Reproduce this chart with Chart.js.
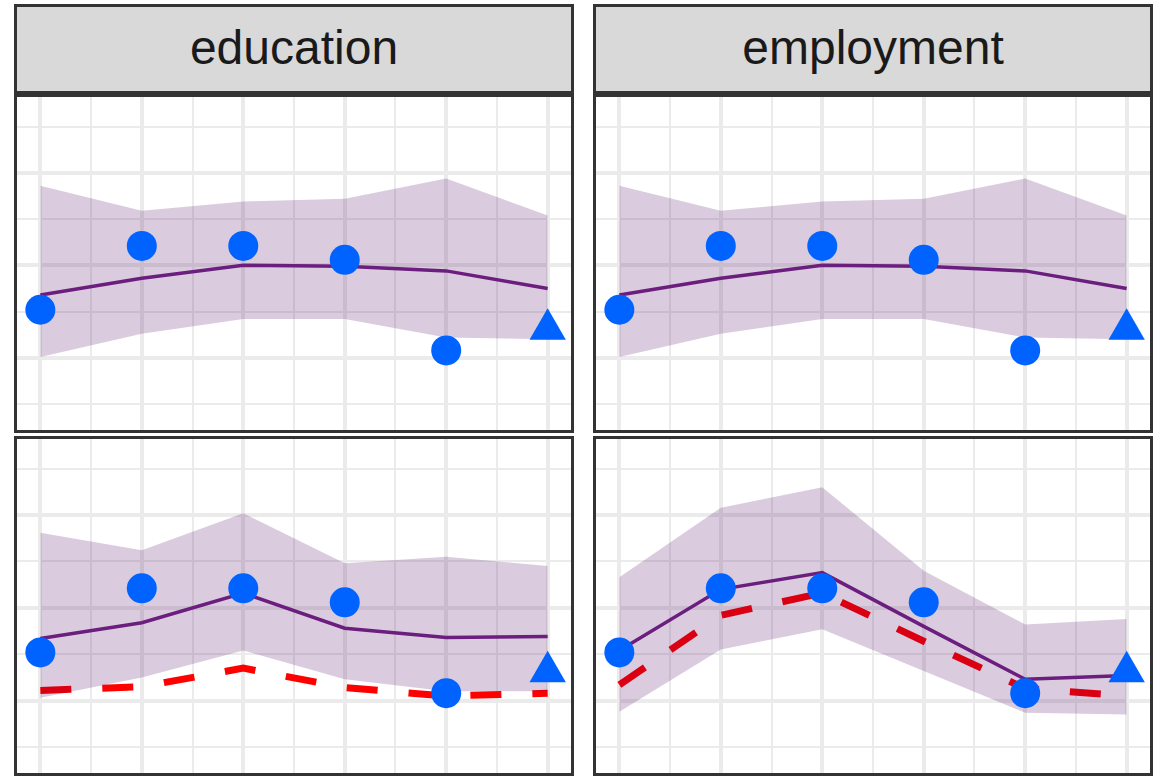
<!DOCTYPE html>
<html>
<head>
<meta charset="utf-8">
<script src="https://cdn.jsdelivr.net/npm/chart.js@4.4.1/dist/chart.umd.min.js"></script>
<style>
  body { margin: 0; width: 1166px; height: 778px; background: #fff; position: relative; overflow: hidden; font-family: "Liberation Sans", Arial, sans-serif; }
  .strip { position: absolute; box-sizing: border-box; height: 90px; border: 3px solid #333; background: #d9d9d9; }
  .strip span { position: absolute; left: 0; right: 0; top: 14px; text-align: center; font-size: 48px; line-height: 54px; color: #1a1a1a; }
  .panel { position: absolute; box-sizing: border-box; border: 3px solid #333; background: #fff; }
  .panel canvas { display: block; }
</style>
</head>
<body>
<div class="strip" style="left:14px;top:4px;width:560px"><span id="t0"></span></div>
<div class="strip" style="left:593px;top:4px;width:560px"><span id="t1"></span></div>
<div class="panel" style="left:14px;top:94px;width:560px;height:339px"><canvas id="c0" width="554" height="333"></canvas></div>
<div class="panel" style="left:593px;top:94px;width:560px;height:339px"><canvas id="c1" width="554" height="333"></canvas></div>
<div class="panel" style="left:14px;top:436px;width:560px;height:340px"><canvas id="c2" width="554" height="334"></canvas></div>
<div class="panel" style="left:593px;top:436px;width:560px;height:340px"><canvas id="c3" width="554" height="334"></canvas></div>

<script>
const facetTitles = ['education', 'employment'];
const xs = [1, 2, 3, 4, 5, 6];
const observed = [1.52, 2.21, 2.21, 2.06, 1.08, 1.31];

// top row (same fit in both facets)
const topFit = [1.68, 1.86, 2.00, 1.99, 1.94, 1.75];
const topUpper = [2.86, 2.59, 2.69, 2.72, 2.94, 2.54];
const topLower = [1.01, 1.26, 1.42, 1.42, 1.22, 1.20];

// bottom row, education
const eduFit = [1.67, 1.84, 2.16, 1.78, 1.68, 1.69];
const eduUpper = [2.81, 2.62, 3.02, 2.48, 2.55, 2.45];
const eduLower = [1.03, 1.25, 1.54, 1.23, 1.10, 1.10];
const eduRef = [1.11, 1.15, 1.35, 1.14, 1.05, 1.08];

// bottom row, employment
const empFit = [1.54, 2.20, 2.38, 1.80, 1.23, 1.27];
const empUpper = [2.33, 3.08, 3.30, 2.40, 1.82, 1.88];
const empLower = [0.88, 1.55, 1.77, 1.32, 0.87, 0.85];
const empRef = [1.17, 1.92, 2.16, 1.64, 1.13, 1.05];

const xGrid = [1, 1.5, 2, 2.5, 3, 3.5, 4, 4.5, 5, 5.5, 6];
const yGrid = [0.5, 1, 1.5, 2, 2.5, 3, 3.5];

document.getElementById('t0').textContent = facetTitles[0];
document.getElementById('t1').textContent = facetTitles[1];

const pts = arr => xs.map((x, i) => ({ x: x, y: arr[i] }));

function gridScale(min, max, values) {
    return {
        type: 'linear', min: min, max: max,
        afterBuildTicks: s => { s.ticks = values.map(v => ({ value: v })); },
        ticks: { display: false },
        border: { display: false },
        grid: {
            color: '#ebebeb',
            drawTicks: false,
            lineWidth: c => Number.isInteger(c.tick.value) ? 4 : 2
        }
    };
}

function makePanel(id, fit, upper, lower, ref) {
    const last = xs.length - 1;
    const datasets = [
        {
            data: pts(observed), showLine: false, order: 0,
            pointBackgroundColor: '#0063ff', pointBorderWidth: 0,
            pointStyle: c => c.dataIndex === last ? 'triangle' : 'circle',
            pointRadius: c => c.dataIndex === last ? 21 : 15
        },
        { data: pts(fit), borderColor: '#6b1e7e', borderWidth: 3.5, pointRadius: 0, tension: 0, order: 1 },
        { data: pts(upper), borderWidth: 0, pointRadius: 0, fill: '+1', backgroundColor: 'rgba(72,0,90,0.2)', order: 2 },
        { data: pts(lower), borderWidth: 0, pointRadius: 0, order: 3 }
    ];
    if (ref) {
        datasets.push({ data: pts(ref), borderColor: '#ff0000', borderWidth: 7, borderDash: [31, 31], pointRadius: 0, tension: 0, order: 4 });
    }
    new Chart(document.getElementById(id), {
        type: 'line',
        data: { datasets: datasets },
        options: {
            responsive: false,
            animation: false,
            layout: { padding: 0, autoPadding: false },
            plugins: { legend: { display: false }, tooltip: { enabled: false } },
            scales: {
                x: gridScale(0.77, 6.23, xGrid),
                y: gridScale(0.22, 3.82, yGrid)
            }
        }
    });
}

makePanel('c0', topFit, topUpper, topLower, null);
makePanel('c1', topFit, topUpper, topLower, null);
makePanel('c2', eduFit, eduUpper, eduLower, eduRef);
makePanel('c3', empFit, empUpper, empLower, empRef);
</script>
</body>
</html>
